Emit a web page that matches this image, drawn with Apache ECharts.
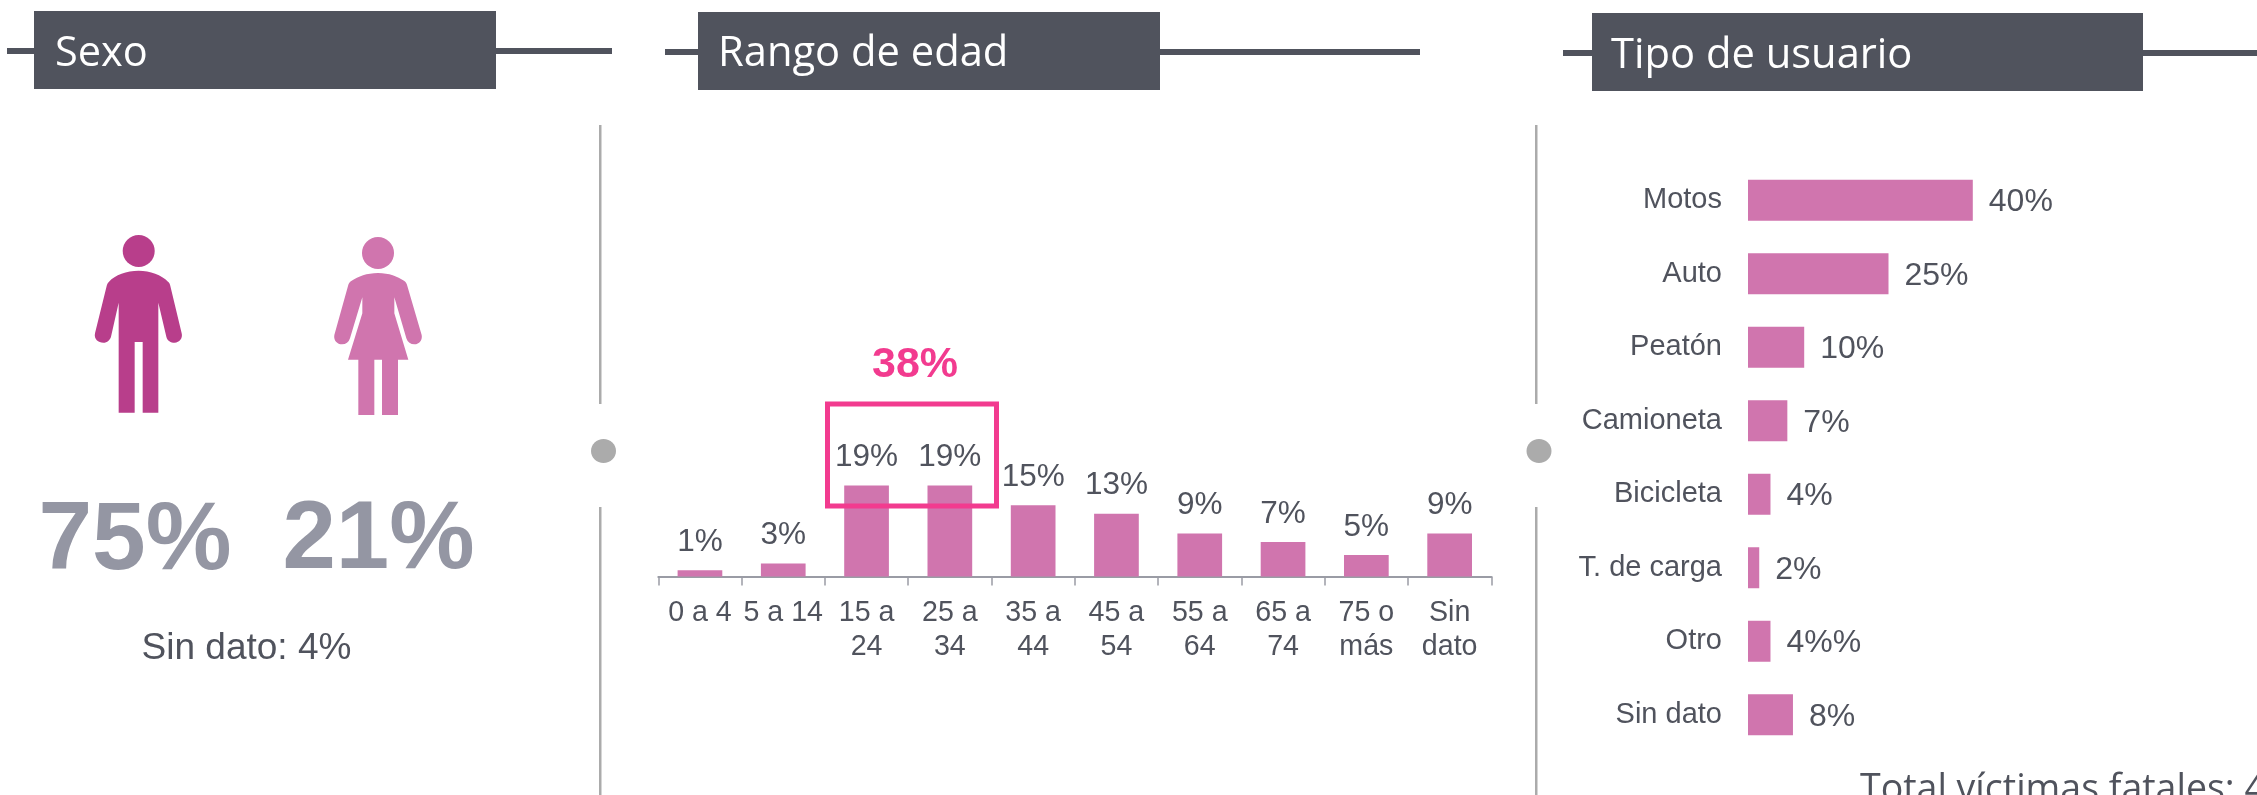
<!DOCTYPE html>
<html><head><meta charset="utf-8">
<style>html,body{margin:0;padding:0;background:#fff;overflow:hidden}#c{width:2257px;height:795px}</style>
<script src="https://cdn.jsdelivr.net/npm/echarts@6/dist/echarts.min.js"></script>
</head><body><div id="c"></div>
<script>
const ageCategories = ['0 a 4','5 a 14','15 a\n24','25 a\n34','35 a\n44','45 a\n54','55 a\n64','65 a\n74','75 o\nmás','Sin\ndato'];
const ageValues = [1.3,2.7,19,19,14.9,13.1,9,7.2,4.5,9];
const ageLabels = ['1%','3%','19%','19%','15%','13%','9%','7%','5%','9%'];
const userCategories = ['Motos','Auto','Peatón','Camioneta','Bicicleta','T. de carga','Otro','Sin dato'];
const userValues = [40,25,10,7,4,2,4,8];
const userLabels = ['40%','25%','10%','7%','4%','2%','4%%','8%'];
const sexLabels = ['75%','21%'];
const sexNote = 'Sin dato: 4%';
const ageHighlight = '38%';
const headers = ['Sexo','Rango de edad','Tipo de usuario'];
const totalText = 'Total víctimas fatales: 4';

const PINK='#D075AE', DARK='#B83E8B', TXT='#50535D', HDR='#50535D', GREY='#ABABAB', BIG='#9496A3', HOT='#F23B8F';
const SANS='"Liberation Sans",Arial,sans-serif', HEAD='"Open Sans",sans-serif';

function rect(x,y,w,h,fill,z){return {type:'rect',shape:{x,y,width:w,height:h},style:{fill},z:z||1,silent:true};}
function txt(x,y,text,font,size,weight,fill,align){return {type:'text',x,y,z:5,silent:true,style:{text,fontFamily:font,fontSize:size,fontWeight:weight,fill,align:align||'center',verticalAlign:'middle'}};}

const manPath='M236 182C200 182 165 195 147 215C143 219 141 223 140 228L105 370C101 388 115 398 130 398C142 398 150 390 153 380L176 278L176 608L224 608L224 396L248 396L248 608L295 608L295 278L319 380C322 392 332 398 344 398C358 398 369 385 365 370L331 228C330 222 328 218 324 215C305 195 270 182 236 182Z';
const womanPath='M954 189C920 189 895 200 875 212C868 216 866 220 864 228L823 375C820 392 832 403 846 403C858 403 866 397 870 385L907 262L907 310L864 449L895 449L895 615L943 615L943 449L966 449L966 615L1014 615L1014 449L1045 449L1003 310L1003 262L1039 385C1043 397 1052 403 1063 403C1078 403 1088 390 1085 375L1042 228C1040 220 1038 216 1032 212C1012 200 988 189 954 189Z';
function icon(d,fill){return {type:'path',x:60,y:210,scaleX:1/3,scaleY:1/3,shape:{pathData:d},style:{fill}};}

const graphics=[
 rect(7,48,605,6,HDR), rect(34,11,462,78,HDR,2),
 rect(665,49,755,6,HDR), rect(698,12,462,78,HDR,2),
 rect(1563,50,694,6,HDR), rect(1592,13,551,78,HDR,2),
 txt(55,54,headers[0],HEAD,41.5,'normal','#fff','left'),
 txt(718,54,headers[1],HEAD,41.7,'normal','#fff','left'),
 txt(1611,56,headers[2],HEAD,41.7,'normal','#fff','left'),
 rect(599,125,2.5,279,GREY), rect(599,507,2.5,288,GREY),
 rect(1535,125,2.5,279,GREY), rect(1535,507,2.5,288,GREY),
 {type:'ellipse',shape:{cx:603.5,cy:451,rx:12.5,ry:12},style:{fill:GREY},silent:true,z:2},
 {type:'ellipse',shape:{cx:1539,cy:451,rx:12.5,ry:12},style:{fill:GREY},silent:true,z:2},
 {type:'circle',shape:{cx:138.7,cy:251,r:16},style:{fill:DARK},silent:true,z:3},
 {type:'circle',shape:{cx:378,cy:253,r:16},style:{fill:PINK},silent:true,z:3},
 txt(135,542,sexLabels[0],SANS,96.5,'bold',BIG),
 txt(378.5,542,sexLabels[1],SANS,96,'bold',BIG),
 txt(246.5,649,sexNote,SANS,37,'normal',TXT),
 txt(915,365,ageHighlight,SANS,43,'bold',HOT),
 {type:'rect',shape:{x:827.5,y:404,width:169,height:102},style:{fill:'none',stroke:HOT,lineWidth:5},silent:true,z:20},
 txt(1860,790,totalText,HEAD,37.5,'normal',TXT,'left')
];

const chart=echarts.init(document.getElementById('c'),null,{renderer:'canvas'});
chart.setOption({
 animation:false,backgroundColor:'#fff',
 grid:[
  {left:658.3,width:833,top:456.75,height:119.75,containLabel:false},
  {left:1748,width:281,top:163.5,height:588,containLabel:false}
 ],
 xAxis:[
  {type:'category',gridIndex:0,data:ageCategories,
   axisLine:{lineStyle:{color:'#9A9CA5',width:2}},
   axisTick:{show:true,length:9,alignWithLabel:false,lineStyle:{color:'#9A9CA5',width:1.5}},
   axisLabel:{interval:0,color:TXT,fontFamily:SANS,fontSize:28.6,lineHeight:34.5,margin:19},splitLine:{show:false}},
  {type:'value',gridIndex:1,min:0,max:50,show:false,splitLine:{show:false}}
 ],
 yAxis:[
  {type:'value',gridIndex:0,min:0,max:25,show:false,splitLine:{show:false}},
  {type:'category',gridIndex:1,inverse:true,data:userCategories,
   axisLine:{show:false},axisTick:{show:false},
   axisLabel:{interval:0,color:TXT,fontFamily:SANS,fontSize:29,margin:26,padding:[3,0,0,0]},splitLine:{show:false}}
 ],
 series:[
  {type:'bar',xAxisIndex:0,yAxisIndex:0,data:ageValues,barWidth:44.7,itemStyle:{color:PINK},
   label:{show:true,position:'top',distance:12,color:TXT,fontFamily:SANS,fontSize:31.5,
     formatter:p=>ageLabels[p.dataIndex]}},
  {type:'bar',xAxisIndex:1,yAxisIndex:1,data:userValues,barWidth:41,itemStyle:{color:PINK},
   label:{show:true,position:'right',distance:16,offset:[0,2],color:TXT,fontFamily:SANS,fontSize:32,
     formatter:p=>userLabels[p.dataIndex]}},
  {type:'custom',coordinateSystem:'none',data:[0],silent:true,z:3,
   renderItem:()=>({type:'group',children:[icon(manPath,DARK),icon(womanPath,PINK)]})}
 ],
 graphic:{elements:graphics}
});
</script></body></html>
